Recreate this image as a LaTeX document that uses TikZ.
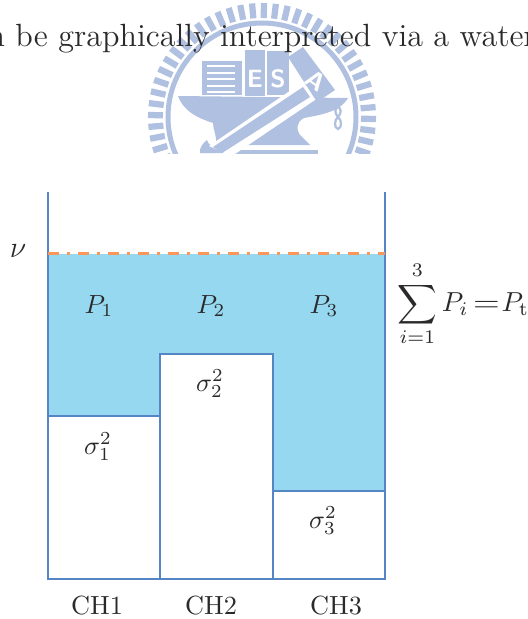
\documentclass[tikz,border=0pt]{standalone}
\usepackage{fix-cm}
\usepackage{amsmath,amssymb,amsfonts}
\usepackage{tikz}
\definecolor{wmblue}{HTML}{B0C0E0}
\definecolor{wallblue}{HTML}{5585C5}
\definecolor{waterblue}{HTML}{97D8F1}
\definecolor{levelorange}{HTML}{F9985A}
\definecolor{inkgray}{HTML}{2A2A2A}
\begin{document}
\begin{tikzpicture}[x=0.4pt,y=-0.4pt,
  wall/.style={draw=wallblue,line width=0.8pt},
  floorbox/.style={wall,fill=white},
  wm/.style={fill=wmblue,draw=none},
  wmcut/.style={fill=white,draw=none},
  wmletter/.style={text=white,font=\bfseries\sffamily\normalsize,inner sep=0pt},
  txt/.style={text=inkgray,inner sep=0pt,font=\fontsize{10.5}{12}\selectfont}]
\useasboundingbox (0,0) rectangle (527,619);
% seal behind the text
\begin{scope}
\clip (100,0) rectangle (420,153);
\foreach \a in {1,7,...,355}
  \draw[wmblue,line width=2.5pt] (262,117) ++(\a:99) -- ++(\a:15);
\draw[wmblue,line width=2pt] (262,117) circle (94);
% anvil
\fill[wm] (178,96) -- (348,98) .. controls (340,112) and (320,115) .. (304,118)
  .. controls (296,122) and (296,130) .. (300,135) -- (310,145) -- (240,145) -- (222,153) -- (200,153)
  .. controls (199,148) and (203,143) .. (207,140) .. controls (208,144) and (211,147) .. (216,145)
  .. controls (217,135) and (213,130) .. (213,123) .. controls (198,118) and (184,112) .. (178,96) -- cycle;
\fill[wm] (230,150) rectangle (318,160);
% books
\fill[wm] (202,61) rectangle (242,95);
\fill[wm] (245,50) rectangle (265,96);
\fill[wm] (267,51) rectangle (289,95);
\foreach \y in {65,72,78,85,91}
  \fill[wmcut] (207,\y) rectangle (235,\y+2);
\node[wmletter] (letterE) at (255,79) {E};
\node[wmletter] (letterS) at (278,79) {S};
% hammer
\fill[wmcut] (300,84) -- (318,98) -- (232,156) -- (209,146) -- cycle;
\fill[wm] (303,87) -- (310,97) -- (222,153) -- (213,147) -- cycle;
\fill[wm] (288,57) -- (303,47) -- (335,90) -- (317,102) -- cycle;
\node[wmletter,rotate=-35] (letterA) at (316,81) {A};
\draw[wmblue,line width=0.9pt] (338,117) .. controls (334,113) and (335,108) .. (338,107)
  .. controls (341,108) and (342,113) .. (338,117)
  .. controls (334,120) and (334,128) .. (338,129) .. controls (342,128) and (342,120) .. (338,117);
\end{scope}
\node[txt,anchor=base west,font=\fontsize{12.86}{15}\selectfont] (bodytext) at (-13,47) {n be graphically interpreted via a water};
% water and channels
\fill[waterblue] (48,254) rectangle (385,579);
\draw[floorbox] (48,416) rectangle (160,579);
\draw[floorbox] (160,354) rectangle (273,579);
\draw[floorbox] (273,491) rectangle (385,579);
\draw[wall] (48,192) -- (48,579) -- (385,579) -- (385,192);
\draw[levelorange,line width=1.2pt,dash pattern=on 4.2pt off 3.4pt on 1.2pt off 3.2pt] (48,253.5) -- (385,253.5);
\node[txt,font=\fontsize{12}{14}\selectfont] (nu) at (18,251) {$\nu$};
\node[txt] (p1) at (99,306) {$P_1$};
\node[txt] (p2) at (211,306) {$P_2$};
\node[txt] (p3) at (324,306) {$P_3$};
\node[txt] (s1) at (98,447) {$\sigma_1^2$};
\node[txt] (s2) at (210,384) {$\sigma_2^2$};
\node[txt] (s3) at (323,521) {$\sigma_3^2$};
\node[txt,anchor=west,font=\fontsize{11}{13}\selectfont] (total) at (397,304) {$\displaystyle\sum_{i=1}^{3}P_i\hspace{-1.2pt}\mathrel{\scalebox{1.25}[1]{$=$}}\hspace{-2.4pt}P_{\mathrm{t}}$};
\node[txt] (ch1) at (97,606) {CH1};
\node[txt] (ch2) at (211,606) {CH2};
\node[txt] (ch3) at (336,606) {CH3};
\end{tikzpicture}
\end{document}
